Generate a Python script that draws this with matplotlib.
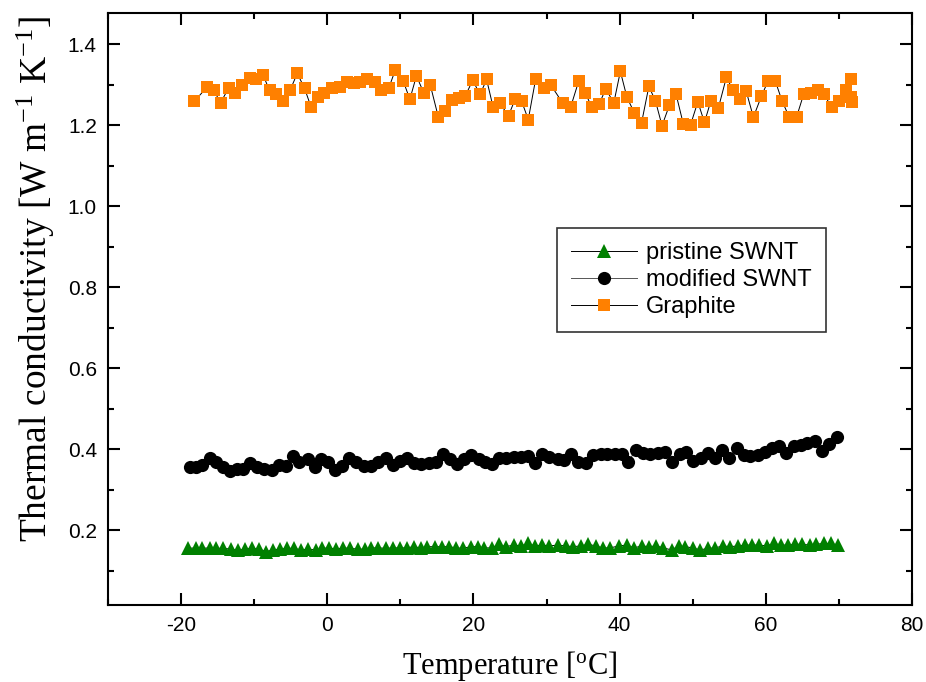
import matplotlib
matplotlib.use("Agg")
import matplotlib.pyplot as plt
from matplotlib.ticker import MultipleLocator

plt.rcParams['font.family'] = ['Liberation Sans', 'DejaVu Sans']
plt.rcParams['mathtext.fontset'] = 'custom'
plt.rcParams['mathtext.rm'] = 'Liberation Serif'
plt.rcParams['mathtext.it'] = 'Liberation Serif:italic'
plt.rcParams['axes.unicode_minus'] = False

# temperature [C] and conductivity [W/mK]
t_pristine = [-19.0, -18.0, -17.1, -16.1, -15.2, -14.2, -13.2, -12.2, -11.3, -10.3,
              -9.3, -8.4, -7.4, -6.5, -5.5, -4.6, -3.6, -2.6, -1.6, -0.7,
              0.3, 1.2, 2.2, 3.1, 4.2, 5.1, 6.0, 7.0, 8.0, 9.0,
              9.9, 10.9, 11.8, 12.8, 13.7, 14.8, 15.7, 16.7, 17.6, 18.6,
              19.6, 20.6, 21.5, 22.5, 23.5, 24.4, 25.5, 26.5, 27.5, 28.4,
              29.4, 30.4, 31.5, 32.6, 33.6, 34.7, 35.7, 36.7, 37.7, 38.7,
              39.9, 41.0, 42.0, 43.0, 44.0, 45.0, 46.0, 47.1, 48.1, 49.0,
              50.0, 51.0, 52.1, 53.1, 54.1, 55.1, 56.2, 57.2, 58.1, 59.1,
              60.1, 61.1, 62.1, 63.1, 64.0, 65.0, 66.0, 66.9, 67.9, 68.9,
              69.9]
k_pristine = [0.155, 0.156, 0.155, 0.156, 0.155, 0.155, 0.153, 0.150, 0.153, 0.155,
              0.153, 0.147, 0.151, 0.153, 0.155, 0.155, 0.151, 0.153, 0.151, 0.155,
              0.156, 0.153, 0.156, 0.155, 0.153, 0.153, 0.156, 0.156, 0.155, 0.156,
              0.156, 0.156, 0.159, 0.156, 0.159, 0.159, 0.159, 0.159, 0.156, 0.155,
              0.159, 0.159, 0.156, 0.156, 0.165, 0.159, 0.163, 0.161, 0.167, 0.161,
              0.163, 0.161, 0.163, 0.161, 0.159, 0.161, 0.165, 0.161, 0.156, 0.156,
              0.161, 0.163, 0.156, 0.161, 0.159, 0.161, 0.156, 0.151, 0.161, 0.159,
              0.156, 0.151, 0.155, 0.156, 0.161, 0.159, 0.161, 0.163, 0.163, 0.163,
              0.161, 0.167, 0.163, 0.163, 0.165, 0.165, 0.163, 0.165, 0.167, 0.167,
              0.163]

t_modified = [-18.8, -17.9, -17.1, -16.1, -15.2, -14.3, -13.3, -12.4, -11.5, -10.6,
              -9.6, -8.7, -7.6, -6.6, -5.7, -4.7, -3.8, -2.7, -1.7, -0.8,
              0.1, 1.0, 2.0, 3.0, 4.0, 5.0, 6.0, 7.0, 8.0, 9.0,
              9.9, 10.9, 11.9, 12.8, 13.9, 14.9, 15.9, 16.8, 17.8, 18.7,
              19.6, 20.7, 21.6, 22.6, 23.5, 24.5, 25.5, 26.5, 27.5, 28.4,
              29.4, 30.4, 31.5, 32.4, 33.4, 34.3, 35.4, 36.3, 37.4, 38.3,
              39.3, 40.3, 41.2, 42.2, 43.2, 44.2, 45.2, 46.2, 47.2, 48.2,
              49.1, 50.1, 51.1, 52.1, 53.1, 54.0, 55.0, 56.0, 57.0, 57.9,
              58.9, 59.9, 60.9, 61.8, 62.8, 63.8, 64.8, 65.7, 66.7, 67.7,
              68.6, 69.7]
k_modified = [0.356, 0.356, 0.360, 0.377, 0.369, 0.356, 0.346, 0.352, 0.350, 0.365,
              0.356, 0.352, 0.348, 0.362, 0.358, 0.383, 0.369, 0.375, 0.356, 0.375,
              0.369, 0.348, 0.358, 0.379, 0.369, 0.358, 0.358, 0.369, 0.377, 0.360,
              0.371, 0.379, 0.366, 0.363, 0.365, 0.369, 0.389, 0.375, 0.363, 0.375,
              0.385, 0.375, 0.369, 0.363, 0.379, 0.379, 0.381, 0.381, 0.383, 0.366,
              0.389, 0.381, 0.375, 0.373, 0.388, 0.369, 0.366, 0.385, 0.389, 0.389,
              0.389, 0.388, 0.369, 0.398, 0.391, 0.388, 0.391, 0.393, 0.369, 0.389,
              0.393, 0.371, 0.377, 0.391, 0.377, 0.399, 0.379, 0.402, 0.385, 0.383,
              0.385, 0.393, 0.404, 0.407, 0.391, 0.407, 0.410, 0.416, 0.421, 0.396,
              0.412, 0.429]

t_graphite = [-18.2, -16.4, -15.5, -14.6, -13.5, -12.6, -11.7, -10.6, -9.7, -8.8,
              -7.9, -7.0, -6.0, -5.1, -4.1, -3.1, -2.2, -1.3, -0.4, 0.7,
              1.7, 2.7, 3.6, 4.5, 5.5, 6.5, 7.4, 8.4, 9.3, 10.4,
              11.3, 12.2, 13.2, 14.1, 15.2, 16.1, 17.1, 18.0, 18.9, 19.9,
              20.9, 21.8, 22.7, 23.6, 24.8, 25.7, 26.6, 27.5, 28.5, 29.6,
              30.6, 32.2, 33.3, 34.4, 35.3, 36.2, 37.2, 38.1, 39.2, 40.1,
              41.0, 42.0, 43.0, 44.0, 44.9, 45.8, 46.8, 47.7, 48.7, 49.7,
              50.7, 51.6, 52.5, 53.5, 54.6, 55.5, 56.4, 57.3, 58.3, 59.4,
              60.3, 61.3, 62.2, 63.2, 64.2, 65.2, 66.2, 67.1, 68.0, 69.0,
              70.0, 70.9, 71.6, 71.7, 71.8]
k_graphite = [1.259, 1.295, 1.286, 1.255, 1.292, 1.280, 1.300, 1.317, 1.315, 1.325,
              1.286, 1.276, 1.259, 1.286, 1.328, 1.291, 1.244, 1.270, 1.280, 1.292,
              1.295, 1.307, 1.305, 1.307, 1.313, 1.307, 1.288, 1.291, 1.336, 1.309,
              1.264, 1.322, 1.280, 1.299, 1.220, 1.235, 1.263, 1.268, 1.273, 1.311,
              1.276, 1.313, 1.244, 1.254, 1.224, 1.264, 1.259, 1.214, 1.313, 1.293,
              1.299, 1.255, 1.245, 1.309, 1.280, 1.244, 1.252, 1.290, 1.255, 1.333,
              1.269, 1.231, 1.206, 1.296, 1.260, 1.199, 1.249, 1.278, 1.204, 1.201,
              1.258, 1.207, 1.261, 1.242, 1.318, 1.288, 1.266, 1.285, 1.220, 1.272,
              1.309, 1.309, 1.261, 1.220, 1.220, 1.278, 1.280, 1.288, 1.276, 1.244,
              1.260, 1.286, 1.313, 1.270, 1.258]

fig = plt.figure(figsize=(9.26, 6.82), dpi=100)
ax = fig.add_axes([0.1166, 0.1129, 0.8683, 0.8685])

ax.plot(t_pristine, k_pristine, color='black', lw=0.7, marker='^', ms=10,
        mfc='#008000', mec='#008000', mew=0, label='pristine SWNT')
ax.plot(t_modified, k_modified, color='#555555', lw=0.7, marker='o', ms=9.5,
        mfc='black', mec='black', mew=0, label='modified SWNT')
ax.plot(t_graphite, k_graphite, color='black', lw=0.7, marker='s', ms=8,
        mfc='#FF8000', mec='#FF8000', mew=0, label='Graphite')

ax.set_xlim(-30, 80)
ax.set_ylim(0.015, 1.478)
ax.xaxis.set_major_locator(MultipleLocator(20))
ax.xaxis.set_minor_locator(MultipleLocator(10))
ax.yaxis.set_major_locator(MultipleLocator(0.2))
ax.yaxis.set_minor_locator(MultipleLocator(0.1))
ax.tick_params(which='both', direction='in', top=True, right=True, width=1.5,
               labelsize=15, pad=8)
ax.tick_params(which='major', length=8.5)
ax.tick_params(which='minor', length=4.5)
ax.set_yticks([0.2, 0.4, 0.6, 0.8, 1.0, 1.2, 1.4])
ax.set_yticklabels(['0.2', '0.4', '0.6', '0.8', '1.0', '1.2', '1.4'])
for s in ax.spines.values():
    s.set_linewidth(1.5)

ax.set_xlabel(r'Temperature [$^{\mathrm{o}}$C]', family='Liberation Serif',
              fontsize=22, labelpad=10)
ax.set_ylabel(r'Thermal conductivity [W m$^{\mathrm{-1}}$ K$^{\mathrm{-1}}$]',
              family='Liberation Serif', fontsize=27)
ax.yaxis.set_label_coords(-0.064, 0.55)

leg = ax.legend(loc='upper left', bbox_to_anchor=(0.558, 0.637), fontsize=17,
                frameon=True, fancybox=False, handlelength=2.8, handletextpad=0.4,
                borderpad=0.6, labelspacing=0.22, borderaxespad=0)
leg.get_frame().set_edgecolor('black')
leg.get_frame().set_linewidth(1.2)

fig.savefig('out.png', dpi=100)
